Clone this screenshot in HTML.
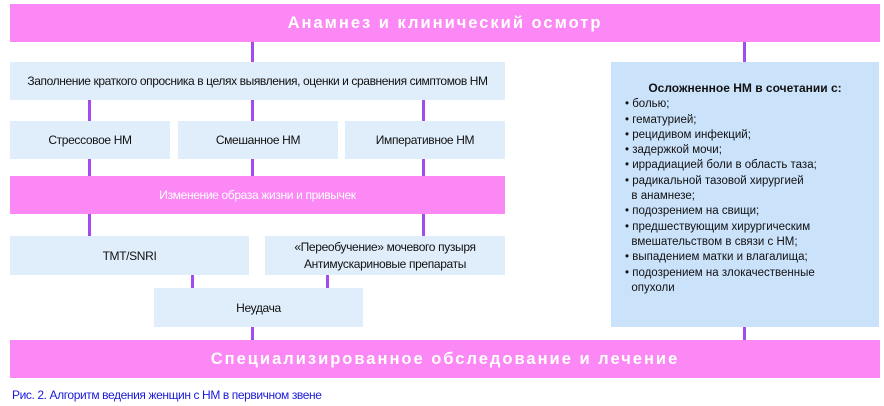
<!DOCTYPE html>
<html><head><meta charset="utf-8"><style>
body{margin:0;width:884px;height:406px;background:#fff;position:relative;font-family:"Liberation Sans","DejaVu Sans",sans-serif;overflow:hidden}
.b{position:absolute;display:flex;align-items:center;justify-content:center;text-align:center;font-size:12px;color:#111;letter-spacing:-0.35px;white-space:nowrap}
.p{background:#fb88f5;color:#fff}
.l{background:#e0edfb}
.v{position:absolute;width:3px;background:#a24cf0}
.big{font-size:16.5px;font-weight:bold;letter-spacing:2px}
</style></head><body>
<div class="b p big" style="left:10px;top:4px;width:870px;height:38px">Анамнез и клинический осмотр</div>
<div class="v" style="left:251px;top:42px;height:20px"></div>
<div class="v" style="left:743px;top:42px;height:20px"></div>
<div class="b l" style="left:10px;top:62px;width:495px;height:38px;font-size:12px;letter-spacing:-0.4px">Заполнение краткого опросника в целях выявления, оценки и сравнения симптомов НМ</div>
<div class="v" style="left:88px;top:100px;height:76px"></div>
<div class="v" style="left:251px;top:100px;height:76px"></div>
<div class="v" style="left:422px;top:100px;height:76px"></div>
<div class="b l" style="left:10px;top:121px;width:160px;height:38px">Стрессовое НМ</div>
<div class="b l" style="left:178px;top:121px;width:160px;height:38px">Смешанное НМ</div>
<div class="b l" style="left:345px;top:121px;width:160px;height:38px">Императивное НМ</div>
<div class="b p" style="left:10px;top:176px;width:495px;height:38px">Изменение образа жизни и привычек</div>
<div class="v" style="left:88px;top:214px;height:22px"></div>
<div class="v" style="left:422px;top:214px;height:22px"></div>
<div class="b l" style="left:10px;top:236px;width:239px;height:39px">TMT/SNRI</div>
<div class="b l" style="left:265px;top:236px;width:240px;height:39px;line-height:17px">«Переобучение» мочевого пузыря<br>Антимускариновые препараты</div>
<div class="v" style="left:191px;top:275px;height:13px"></div>
<div class="v" style="left:326px;top:275px;height:13px"></div>
<div class="b l" style="left:154px;top:288px;width:209px;height:39px">Неудача</div>
<div class="v" style="left:251px;top:327px;height:13px"></div>
<div class="v" style="left:743px;top:327px;height:13px"></div>
<div style="position:absolute;left:611px;top:62px;width:268px;height:265px;background:#cbe2fb;font-size:11.5px;color:#111;line-height:15.3px">
<div style="text-align:center;font-weight:bold;font-size:12px;margin-top:19px;margin-bottom:1px">Осложненное НМ в сочетании с:</div>
<div style="padding-left:14px">
• болью;<br>• гематурией;<br>• рецидивом инфекций;<br>• задержкой мочи;<br>• иррадиацией боли в область таза;<br>• радикальной тазовой хирургией<br>&nbsp;&nbsp;в анамнезе;<br>• подозрением на свищи;<br>• предшествующим хирургическим<br>&nbsp;&nbsp;вмешательством в связи с НМ;<br>• выпадением матки и влагалища;<br>• подозрением на злокачественные<br>&nbsp;&nbsp;опухоли</div></div>
<div class="b p big" style="left:10px;top:340px;width:870px;height:38px">Специализированное обследование и лечение</div>
<div style="position:absolute;left:12px;top:388px;font-size:12px;color:#1a1adb;letter-spacing:-0.4px">Рис. 2. Алгоритм ведения женщин с НМ в первичном звене</div>
</body></html>
